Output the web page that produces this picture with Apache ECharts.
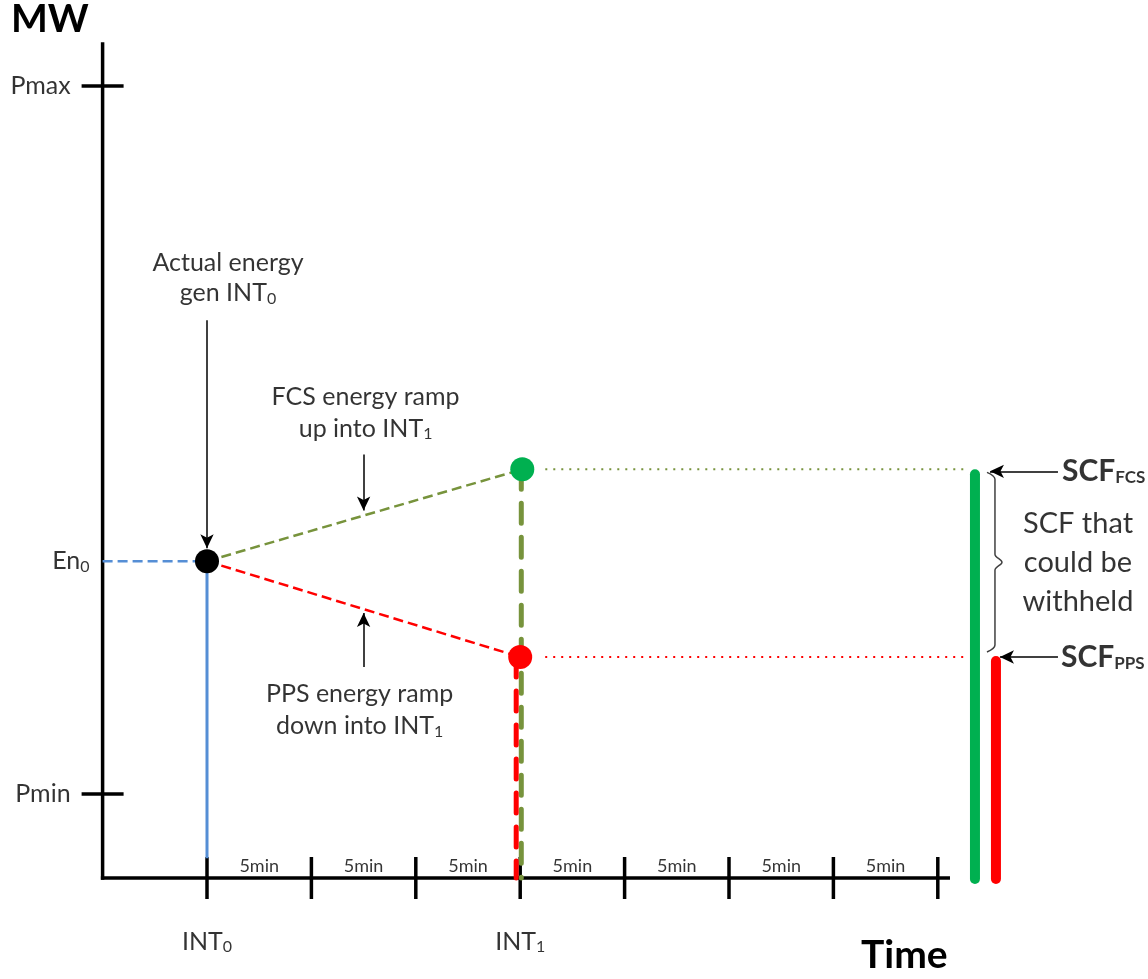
<!DOCTYPE html>
<html><head><meta charset="utf-8">
<script src="https://cdn.jsdelivr.net/npm/echarts@6/dist/echarts.min.js"></script>
<style>html,body{margin:0;padding:0;background:#fff}#c{width:1148px;height:979px}</style>
</head><body><div id="c"></div>
<script>
// ---------------- data ----------------
const intervalTicks = [0, 1, 2, 3, 4, 5, 6, 7];            // 5-minute interval boundaries
const intervalLabels = ['5min', '5min', '5min', '5min', '5min', '5min', '5min'];
const intervalNames = ['INT', 'INT'];
const intervalSubs = ['0', '1'];
const intervalNameX = [0, 3];
const levelNames = ['Pmax', 'Pmin'];
const levelValues = [100, 10.6];
const en0Value = 40;
const actualPoint = [0, 40];        // actual energy gen INT0
const fcsPoint = [3.02, 51.6];      // FCS ramp target into INT1
const ppsPoint = [3.0, 27.9];       // PPS ramp target into INT1
const scfFcsX = 7.356;
const scfPpsX = 7.557;
const axisStartX = -1;
const axisEndX = 7.1;
const axisTopY = 105.3;
const blueBottomY = 2.5;

// ---------------- layout helpers ----------------
const PXX = 104.4, ORGX = 207, PXY = 7.92, ORGY = 878;
const W = 1148, H = 979;
const xMin = -ORGX / PXX, xMax = (W - ORGX) / PXX;
const yMin = -(H - ORGY) / PXY, yMax = ORGY / PXY;
const dx = px => px / PXX, dy = px => px / PXY;
const FONT = 'Lato, "Open Sans", sans-serif';
const OLIVE = '#77933C', GREEN = '#00B050', RED = '#FF0000', BLUE = '#558ED5';

function seg(pts, style, z) {
  return {
    type: 'line', data: pts, symbol: 'none', silent: true, animation: false,
    z: z || 2, lineStyle: Object.assign({ color: '#000', width: 3.5, type: 'solid', cap: 'butt' }, style)
  };
}
const series = [];
// axes
series.push(seg([[axisStartX, 0], [axisStartX, axisTopY]], { cap: 'square' }));
series.push(seg([[axisStartX, 0], [axisEndX, 0]], { cap: 'square' }));
levelValues.forEach(v => series.push(seg([[axisStartX - dx(21), v], [axisStartX + dx(21), v]], {})));
intervalTicks.forEach(t => series.push(seg([[t, -dy(21)], [t, dy(21)]], {})));
// blue
series.push(seg([[axisStartX, en0Value], [actualPoint[0], en0Value]], { color: BLUE, width: 2.5, type: [10, 5] }));
series.push(seg([[actualPoint[0], actualPoint[1]], [actualPoint[0], blueBottomY]], { color: BLUE, width: 3 }, 3));
// ramps
series.push(seg([actualPoint, fcsPoint], { color: OLIVE, width: 2.5, type: [10, 5] }));
series.push(seg([actualPoint, ppsPoint], { color: RED, width: 2.5, type: [10, 5] }));
// thick vertical dashes
series.push(seg([[fcsPoint[0] - dx(1), fcsPoint[1]], [fcsPoint[0] - dx(1), 0]], { color: OLIVE, width: 5, type: [20, 14], cap: 'round' }, 3));
series.push(seg([[ppsPoint[0] - dx(4), ppsPoint[1]], [ppsPoint[0] - dx(4), 0]], { color: RED, width: 5, type: [20, 14], cap: 'round' }, 3));
// dotted extensions
series.push(seg([[fcsPoint[0] + dx(23), fcsPoint[1]], [scfFcsX - dx(10), fcsPoint[1]]], { color: OLIVE, width: 2, type: [2, 6] }));
series.push(seg([[ppsPoint[0] + dx(25), ppsPoint[1]], [scfFcsX - dx(10), ppsPoint[1]]], { color: RED, width: 2, type: [2, 6] }));
// SCF bars
series.push(seg([[scfFcsX, fcsPoint[1] - dy(5)], [scfFcsX, -dy(1)]], { color: GREEN, width: 10, cap: 'round' }, 3));
series.push(seg([[scfPpsX, ppsPoint[1] - dy(4)], [scfPpsX, -dy(1)]], { color: RED, width: 10, cap: 'round' }, 3));
// brace
const bx0 = scfFcsX + dx(12), bx1 = scfFcsX + dx(20), bx2 = scfFcsX + dx(27);
const bTop = fcsPoint[1] - dy(3), bBot = ppsPoint[1] + dy(5), bMid = (bTop + bBot) / 2;
series.push({
  type: 'line', silent: true, animation: false, symbol: 'none', smooth: 0.35, z: 2,
  lineStyle: { color: '#404040', width: 1.5 },
  data: [[bx0, bTop], [bx1, bTop - dy(7)], [bx1, bMid + dy(8)], [bx2, bMid], [bx1, bMid - dy(8)], [bx1, bBot + dy(7)], [bx0, bBot]]
});

// points + annotation arrows
const rampAt = (p, x) => actualPoint[1] + (p[1] - actualPoint[1]) * (x - actualPoint[0]) / (p[0] - actualPoint[0]);
const arrowX = 1.5;
series.push({
  type: 'scatter', silent: true, animation: false, z: 6,
  itemStyle: { opacity: 1 },
  data: [
    { value: actualPoint, symbolSize: 24, itemStyle: { color: '#000', opacity: 1 } },
    { value: fcsPoint, symbolSize: 24, itemStyle: { color: GREEN, opacity: 1 } },
    { value: ppsPoint, symbolSize: 24, itemStyle: { color: RED, opacity: 1 } }
  ],
  markLine: {
    silent: true, animation: false, symbol: ['none', 'arrow'], symbolSize: [10, 14],
    label: { show: false }, emphasis: { disabled: true },
    lineStyle: { color: '#000', width: 1.5, type: 'solid', opacity: 1 },
    data: [
      [{ coord: [actualPoint[0], actualPoint[1] + dy(241)] }, { coord: [actualPoint[0], actualPoint[1] + dy(13)] }],
      [{ coord: [arrowX, rampAt(fcsPoint, arrowX) + dy(61)] }, { coord: [arrowX, rampAt(fcsPoint, arrowX) + dy(5)] }],
      [{ coord: [arrowX, rampAt(ppsPoint, arrowX) - dy(58)] }, { coord: [arrowX, rampAt(ppsPoint, arrowX) - dy(4)] }],
      [{ coord: [scfFcsX + dx(83), fcsPoint[1] - dy(2)] }, { coord: [scfFcsX + dx(15), fcsPoint[1] - dy(2)] }],
      [{ coord: [scfFcsX + dx(83), ppsPoint[1]] }, { coord: [scfPpsX + dx(4), ppsPoint[1]] }]
    ]
  }
});

// text labels
const base = { fontFamily: FONT, color: '#000' };
const subRich = {
  s: { fontFamily: FONT, fontSize: 16, padding: [11, 0, 0, 0], color: '#000' },
  sb: { fontFamily: FONT, fontSize: 17, fontWeight: 'bold', padding: [12, 0, 0, 0], color: '#000' },
  b: { fontFamily: FONT, fontSize: 30, fontWeight: 'bold', color: '#000' }
};
function textItem(value, label) {
  return { value, symbolSize: 0, label: Object.assign({ show: true, rich: subRich }, base, label) };
}
const texts = [];
levelNames.forEach((n, i) => texts.push(textItem([axisStartX, levelValues[i]], { formatter: n, position: 'left', distance: 32, fontSize: 25 })));
texts.push(textItem([axisStartX, en0Value], { formatter: 'En{s|0}', position: 'left', distance: 13, fontSize: 25 }));
intervalNames.forEach((n, i) => texts.push(textItem([intervalNameX[i], 0], { formatter: n + '{s|' + intervalSubs[i] + '}', position: 'bottom', distance: 50, fontSize: 25 })));
intervalLabels.forEach((n, i) => texts.push(textItem([(intervalTicks[i] + intervalTicks[i + 1]) / 2, 0], { formatter: n, position: 'top', distance: 3, fontSize: 18 })));
texts.push(textItem([actualPoint[0], actualPoint[1] + dy(241)], { formatter: 'Actual energy\ngen INT{s|0}', position: 'top', distance: 12, offset: [21, 0], fontSize: 25, lineHeight: 30, align: 'center' }));
texts.push(textItem([arrowX, rampAt(fcsPoint, arrowX) + dy(61)], { formatter: 'FCS energy ramp\nup into INT{s|1}', position: 'top', distance: 10, offset: [2, 0], fontSize: 25, lineHeight: 32, align: 'center' }));
texts.push(textItem([arrowX, rampAt(ppsPoint, arrowX) - dy(58)], { formatter: 'PPS energy ramp\ndown into INT{s|1}', position: 'bottom', distance: 11, offset: [-4, 0], fontSize: 25, lineHeight: 32, align: 'center' }));
texts.push(textItem([bx2, bMid], { formatter: 'SCF that\ncould be\nwithheld', position: 'inside', offset: [76, 0], fontSize: 29, lineHeight: 39, align: 'center' }));
texts.push(textItem([scfFcsX + dx(83), fcsPoint[1] - dy(2)], { formatter: '{b|SCF}{sb|FCS}', position: 'right', distance: 4 }));
texts.push(textItem([scfFcsX + dx(83), ppsPoint[1]], { formatter: '{b|SCF}{sb|PPS}', position: 'right', distance: 3 }));
series.push({ type: 'scatter', silent: true, animation: false, z: 7, data: texts });

const chart = echarts.init(document.getElementById('c'), null, { renderer: 'canvas' });
chart.setOption({
  animation: false,
  backgroundColor: '#fff',
  grid: { left: 0, right: 0, top: 0, bottom: 0 },
  xAxis: { type: 'value', min: xMin, max: xMax, show: false },
  yAxis: { type: 'value', min: yMin, max: yMax, show: false },
  graphic: [
    { type: 'text', left: 11, top: 0, style: { text: 'MW', font: 'bold 39px ' + FONT, fill: '#000' } },
    { type: 'text', left: 861, top: 936, style: { text: 'Time', font: 'bold 39px ' + FONT, fill: '#000' } }
  ],
  series
});
</script></body></html>
